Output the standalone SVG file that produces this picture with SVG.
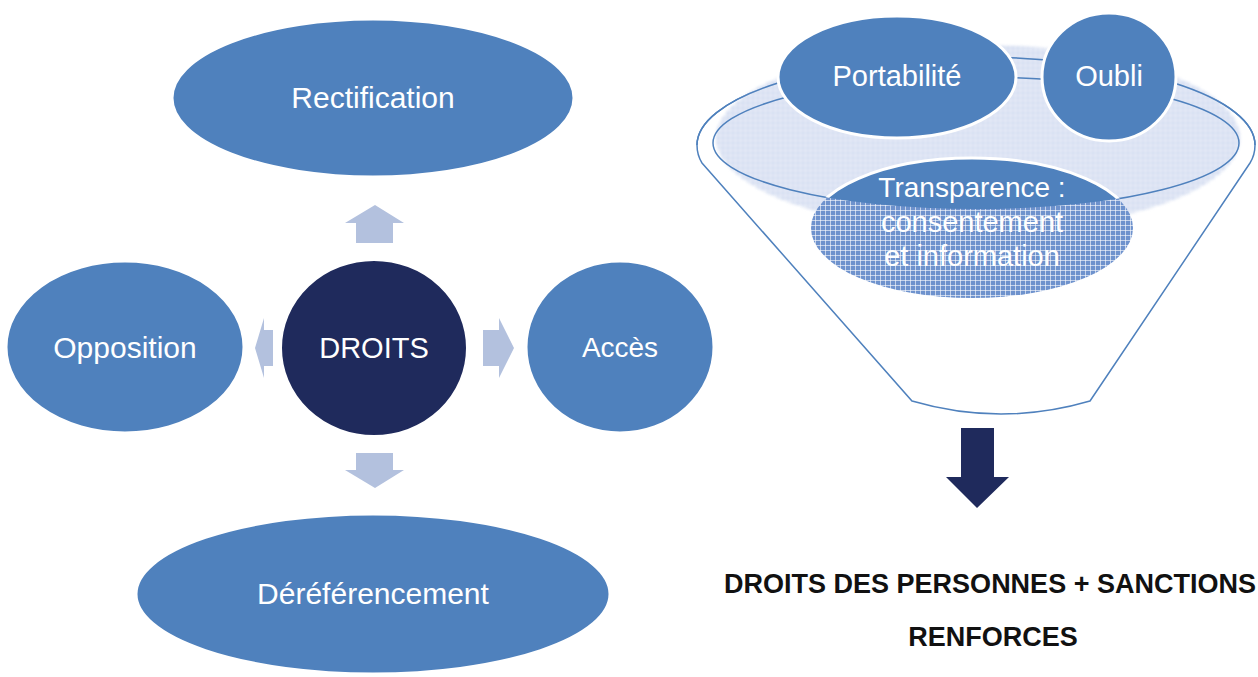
<svg xmlns="http://www.w3.org/2000/svg" width="1258" height="677" viewBox="0 0 1258 677">
<defs>
<style>
.lbl{font-family:"Liberation Sans",Arial,sans-serif;fill:#fff;text-anchor:middle;font-size:30px}
.node{fill:#4f81bd;stroke:#fff;stroke-width:3}
.arr{fill:#b3c1de}
.title{font-family:"Liberation Sans",Arial,sans-serif;font-weight:bold;font-size:27px;fill:#111;text-anchor:middle}
.rim{fill:none;stroke:#4f81bd;stroke-width:1.5}
</style>
<pattern id="hatchLight" width="5" height="5" patternUnits="userSpaceOnUse">
<rect width="5" height="5" fill="#cbd6ee"/>
<path d="M0 0.5H5M0.5 0V5" stroke="#fff" stroke-opacity="0.75" stroke-width="1"/>
</pattern>
<pattern id="hatchDark" width="5" height="5" patternUnits="userSpaceOnUse">
<rect width="5" height="5" fill="#6e92cd"/>
<path d="M0 0.5H5M0.5 0V5" stroke="#fff" stroke-opacity="0.6" stroke-width="1"/>
</pattern>
<clipPath id="innerClip">
<ellipse cx="976" cy="143" rx="263" ry="66"/>
</clipPath>
<filter id="soft" x="-5%" y="-10%" width="110%" height="120%">
<feGaussianBlur stdDeviation="1.5"/>
</filter>
</defs>
<rect width="1258" height="677" fill="#fff"/>

<g id="connectors">
<path class="arr" d="M375 205 L404 223 L393 223 L393 243 L356 243 L356 223 L345 223 Z"/>
<path class="arr" d="M356 453 L393 453 L393 470 L404 470 L375 488 L345 470 L356 470 Z"/>
<path class="arr" d="M483 330 L499 330 L499 318 L514 348 L499 378 L499 366 L483 366 Z"/>
<path class="arr" d="M273 330 L264 330 L264 318 L255 348 L264 378 L264 366 L273 366 Z"/>
<path fill="#1f2a5c" d="M961 428 L994 428 L994 477 L1009 477 L977 508 L946 477 L961 477 Z"/>
</g>

<g id="node-rectification">
<ellipse class="node" cx="373" cy="98" rx="201" ry="79"/>
<text class="lbl" x="373" y="108">Rectification</text>
</g>
<g id="node-opposition">
<ellipse class="node" cx="125" cy="347" rx="119" ry="86"/>
<text class="lbl" x="125" y="358">Opposition</text>
</g>
<g id="node-droits">
<ellipse cx="374" cy="348" rx="93" ry="88" fill="#1f2a5c" stroke="#fff" stroke-width="2"/>
<text class="lbl" x="374" y="358" style="font-size:29px">DROITS</text>
</g>
<g id="node-acces">
<ellipse class="node" cx="620" cy="347" rx="94" ry="86"/>
<text class="lbl" x="620" y="357" style="font-size:28px">Accès</text>
</g>
<g id="node-dereferencement">
<ellipse class="node" cx="373" cy="594" rx="237" ry="80"/>
<text class="lbl" x="373" y="604">Déréférencement</text>
</g>

<g id="funnel">
<path d="M697 145 A279 88 0 0 1 1255 145 Q1255 155 1250 163 L1090 401 Q1001 427 912 401 L702 163 Q697 155 697 145 Z" fill="#fff" stroke="#4f81bd" stroke-width="1.5"/>
<ellipse cx="978" cy="138" rx="262" ry="93" fill="url(#hatchLight)" filter="url(#soft)" opacity="0.9"/>
<path class="rim" d="M697 145 A279 88 0 0 1 1255 145"/>
<ellipse class="rim" cx="976" cy="143" rx="263" ry="66"/>
</g>

<g id="node-portabilite">
<ellipse class="node" cx="897" cy="77" rx="119" ry="61"/>
<text class="lbl" x="897" y="86" style="font-size:29px">Portabilité</text>
</g>
<g id="node-oubli">
<ellipse class="node" cx="1109" cy="77" rx="67" ry="64"/>
<text class="lbl" x="1109" y="86" style="font-size:29px">Oubli</text>
</g>
<g id="node-transparence">
<ellipse cx="972" cy="228" rx="161" ry="70" fill="url(#hatchDark)"/>
<g clip-path="url(#innerClip)">
<ellipse class="node" cx="972" cy="228" rx="161" ry="70"/>
</g>
<text class="lbl" x="972" y="197" style="font-size:28px">Transparence :</text>
<text class="lbl" x="972" y="232" style="font-size:29px">consentement</text>
<text class="lbl" x="972" y="266" style="font-size:29px">et information</text>
</g>

<g id="result-text">
<text class="title" x="990" y="593">DROITS DES PERSONNES + SANCTIONS</text>
<text class="title" x="993" y="646">RENFORCES</text>
</g>
</svg>
